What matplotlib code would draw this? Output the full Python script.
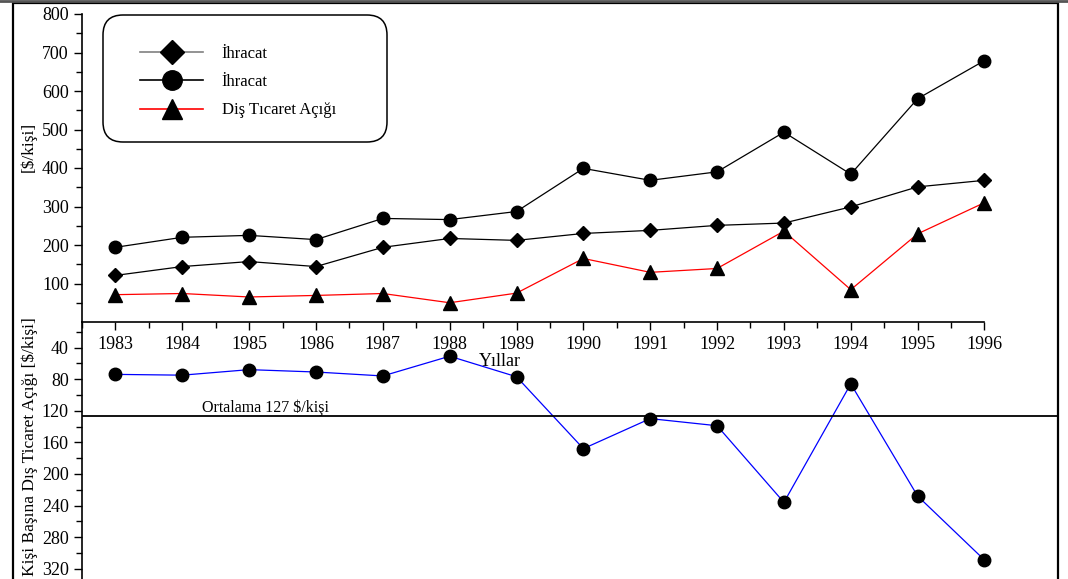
import matplotlib.pyplot as plt
import matplotlib.transforms as mtransforms
from matplotlib.patches import FancyBboxPatch, Rectangle
from matplotlib.lines import Line2D

plt.rcParams['font.family'] = ['Liberation Serif', 'DejaVu Serif']

# veriler
yillar = list(range(1983, 1997))
ihracat_d = [121, 144, 157, 144, 194, 217, 212, 230, 238, 251, 257, 299, 351, 368]
ihracat_o = [194, 220, 225, 214, 269, 266, 287, 399, 368, 390, 493, 384, 580, 679]
dis_acik = [71, 74, 65, 69, 74, 50, 75, 165, 129, 139, 236, 84, 229, 310]
kisi_basi = [74, 75, 68, 71, 76, 51, 77, 168, 130, 139, 236, 86, 228, 309]
ortalama = 127

etiketler = ['İhracat', 'İhracat', 'Diş Tıcaret Açığı']

W, H = 1068, 579
fig = plt.figure(figsize=(W / 100, H / 100), dpi=100)


def px(x0, y0, x1, y1):
    return [x0 / W, 1 - y1 / H, (x1 - x0) / W, (y1 - y0) / H]


ax1 = fig.add_axes(px(82, 14, 1058, 322))
ax2 = fig.add_axes(px(82, 322, 1058, 579))
for ax in (ax1, ax2):
    ax.patch.set_visible(False)
    ax.set_xlim(1982.5, 1982.5 + 976 / 66.85)
    ax.spines['top'].set_visible(False)
    ax.spines['right'].set_visible(False)
    ax.spines['left'].set_linewidth(1.2)
    ax.tick_params(which='major', length=6, width=1, labelsize=13)
    ax.tick_params(which='minor', length=4, width=1)

# ust panel
ax1.plot(yillar, ihracat_d, color='black', lw=0.9, marker='D', ms=7.5)
ax1.plot(yillar, ihracat_o, color='black', lw=0.9, marker='o', ms=9)
ax1.plot(yillar, dis_acik, color='red', lw=0.9, marker='^', ms=9.5,
         mfc='black', mec='black')
ax1.set_ylim(0, 800)
ax1.set_yticks(range(100, 801, 100))
ax1.set_yticks(range(50, 800, 100), minor=True)
ax1.set_xticks(yillar)
ax1.set_xticks([y - 0.5 for y in yillar], minor=True)
ax1.spines['bottom'].set_bounds(1982.5, 1996)
ax1.spines['bottom'].set_linewidth(1.2)
ax1.tick_params(axis='x', pad=4)

# alt panel
ax2.plot(yillar, kisi_basi, color='blue', lw=0.9, marker='o', ms=9,
         mfc='black', mec='black')
ax2.axhline(ortalama, color='black', lw=1.3)
ax2.set_ylim(333, 7.7)
ax2.set_yticks(range(40, 321, 40))
ax2.set_yticks(range(20, 321, 40), minor=True)
ax2.set_xticks([])
ax2.spines['bottom'].set_visible(False)

# metinler
fig.text(500 / W, 1 - 362 / H, 'Yıllar', ha='center', va='center', fontsize=13)
fig.text(265 / W, 1 - 408 / H, 'Ortalama 127 $/kişi', ha='center',
         va='center', fontsize=11.5)
fig.text(28 / W, 1 - 147 / H, '[$/kişi]', rotation=90, ha='center',
         va='center', fontsize=12.5)
fig.text(30 / W, 1 - 447 / H, 'Kişi Başına Dış Ticaret Açığı [$/kişi]',
         rotation=90, ha='center', va='center', fontsize=12.5)

# lejant
tutucular = [
    Line2D([], [], color='gray', lw=1.2, marker='D', ms=12, mfc='black', mec='black'),
    Line2D([], [], color='black', lw=1.2, marker='o', ms=14, mfc='black', mec='black'),
    Line2D([], [], color='red', lw=1.2, marker='^', ms=14, mfc='black', mec='black'),
]
ax1.legend(tutucular, etiketler, frameon=False, fontsize=12,
           handlelength=3.8, handletextpad=1.1, labelspacing=0.75,
           loc='center', bbox_to_anchor=(238 / W, 1 - 82 / H),
           bbox_transform=fig.transFigure)
ident = mtransforms.IdentityTransform()
fig.add_artist(FancyBboxPatch((103, H - 142), 284, 127,
                              boxstyle='round,pad=0,rounding_size=20',
                              fc='none', ec='black', lw=1.1, transform=ident))

# cerceve
fig.add_artist(Rectangle((13, -5), 1045, H - 3 + 5, fc='none', ec='black',
                         lw=1.6, transform=ident))
fig.add_artist(Line2D([0, W], [H - 1, H - 1], color='#555555', lw=2,
                      transform=ident))

fig.savefig('out.png', dpi=100)
